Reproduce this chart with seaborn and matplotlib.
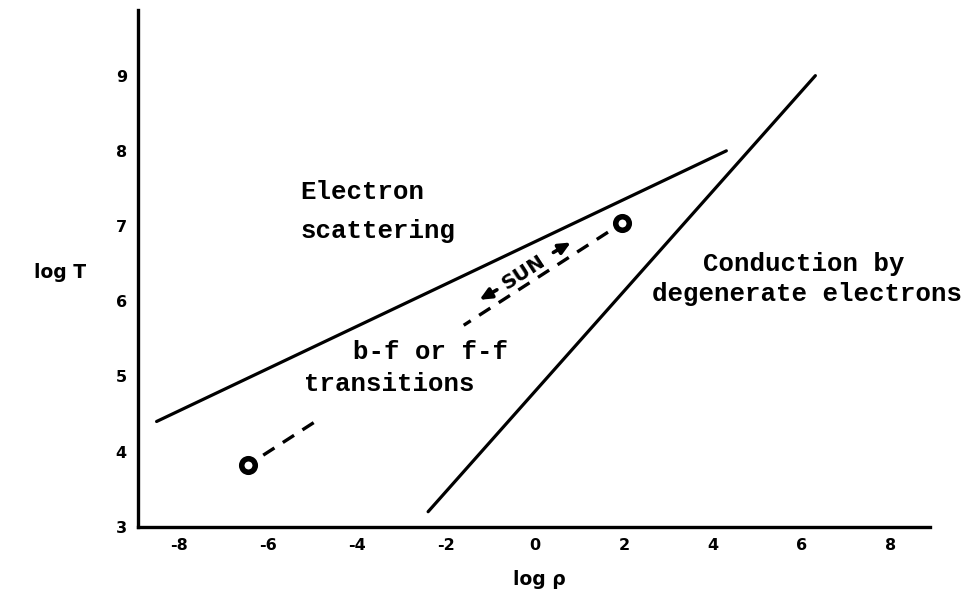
import matplotlib
matplotlib.use("Agg")
import matplotlib.pyplot as plt
import seaborn as sns
import pandas as pd

# Regime boundaries in the (log rho, log T) plane
scatter_edge_x = [-8.5, 4.3]
scatter_edge_y = [4.4, 8.0]
degenerate_edge_x = [-2.4, 6.3]
degenerate_edge_y = [3.2, 9.0]

# Solar track: surface and centre, with the two dashed stretches between them
sun_end_x = [-6.45, 1.96]
sun_end_y = [3.82, 7.04]
sun_outer_x = [-6.45, -4.8]
sun_outer_y = [3.82, 4.45]
sun_inner_x = [-1.6, 1.96]
sun_inner_y = [5.68, 7.04]

x_ticks = [-8, -6, -4, -2, 0, 2, 4, 6, 8]
x_tick_labels = ["-8", "-6", "-4", "-2", "0", "2", "4", "6", "8"]
y_ticks = [3, 4, 5, 6, 7, 8, 9]
y_tick_labels = ["3", "4", "5", "6", "7", "8", "9"]

sns.set_style("white")
plt.rcParams["font.family"] = ["DejaVu Sans"]
plt.rcParams["text.color"] = "black"
plt.rcParams["axes.labelcolor"] = "black"

fig = plt.figure(figsize=(9.71, 6.02), dpi=100)
ax = fig.add_axes([0.142, 0.125, 0.816, 0.858])

boundaries = pd.DataFrame({
    "x": scatter_edge_x + degenerate_edge_x,
    "y": scatter_edge_y + degenerate_edge_y,
    "edge": ["scatter"] * 2 + ["degenerate"] * 2,
})
sns.lineplot(data=boundaries, x="x", y="y", units="edge", estimator=None,
             sort=False, color="black", lw=2.3, ax=ax)

track = pd.DataFrame({
    "x": sun_outer_x + sun_inner_x,
    "y": sun_outer_y + sun_inner_y,
    "part": ["outer"] * 2 + ["inner"] * 2,
})
sns.lineplot(data=track, x="x", y="y", units="part", estimator=None,
             sort=False, color="black", lw=2.4, ax=ax,
             dashes=False, linestyle=(1.5, (4.0, 3.0)))

sns.scatterplot(x=sun_end_x, y=sun_end_y, ax=ax, s=95, facecolor="white",
                edgecolor="black", linewidth=4, zorder=5)

# Region labels in a typewriter face
mono = dict(family="Liberation Mono", fontsize=18.5, color="black",
            fontweight="bold")
ax.text(-5.27, 7.45, "Electron", ha="left", va="center", **mono)
ax.text(-5.27, 6.94, "scattering", ha="left", va="center", **mono)
ax.text(-4.08, 5.33, "b-f or f-f", ha="left", va="center", **mono)
ax.text(-5.18, 4.90, "transitions", ha="left", va="center", **mono)
ax.text(3.77, 6.49, "Conduction by", ha="left", va="center", **mono)
ax.text(2.62, 6.09, "degenerate electrons", ha="left", va="center", **mono)

# SUN marker with arrows along the track
ax.text(-0.25, 6.38, "SUN", rotation=33, ha="center", va="center",
        fontsize=14.5, fontweight="bold", color="black")
arrow = dict(arrowstyle="-|>,head_length=0.7,head_width=0.32",
             color="black", lw=2.6)
ax.annotate("", xy=(-1.30, 6.00), xytext=(-0.80, 6.17), arrowprops=arrow)
ax.annotate("", xy=(0.86, 6.80), xytext=(0.36, 6.63), arrowprops=arrow)

ax.set_xlim(-8.92, 8.88)
ax.set_ylim(3.0, 9.87)
ax.set_xticks(x_ticks)
ax.set_xticklabels(x_tick_labels)
ax.set_yticks(y_ticks)
ax.set_yticklabels(y_tick_labels)
ax.tick_params(axis="both", direction="in", length=6, width=2,
               labelsize=11.5, color="black", labelcolor="black", pad=8)
for lab in ax.get_xticklabels() + ax.get_yticklabels():
    lab.set_fontweight("bold")

sns.despine(ax=ax)
for side in ("left", "bottom"):
    ax.spines[side].set_linewidth(2.4)
    ax.spines[side].set_color("black")

ax.set_xlabel("log ρ", fontsize=13.5, fontweight="bold", color="black")
ax.xaxis.set_label_coords(0.507, -0.083)
ax.set_ylabel("log T", fontsize=13.5, fontweight="bold", rotation=0,
              va="center", ha="center", color="black")
ax.yaxis.set_label_coords(-0.098, 0.493)

fig.savefig("out.png", dpi=100, facecolor="white")
